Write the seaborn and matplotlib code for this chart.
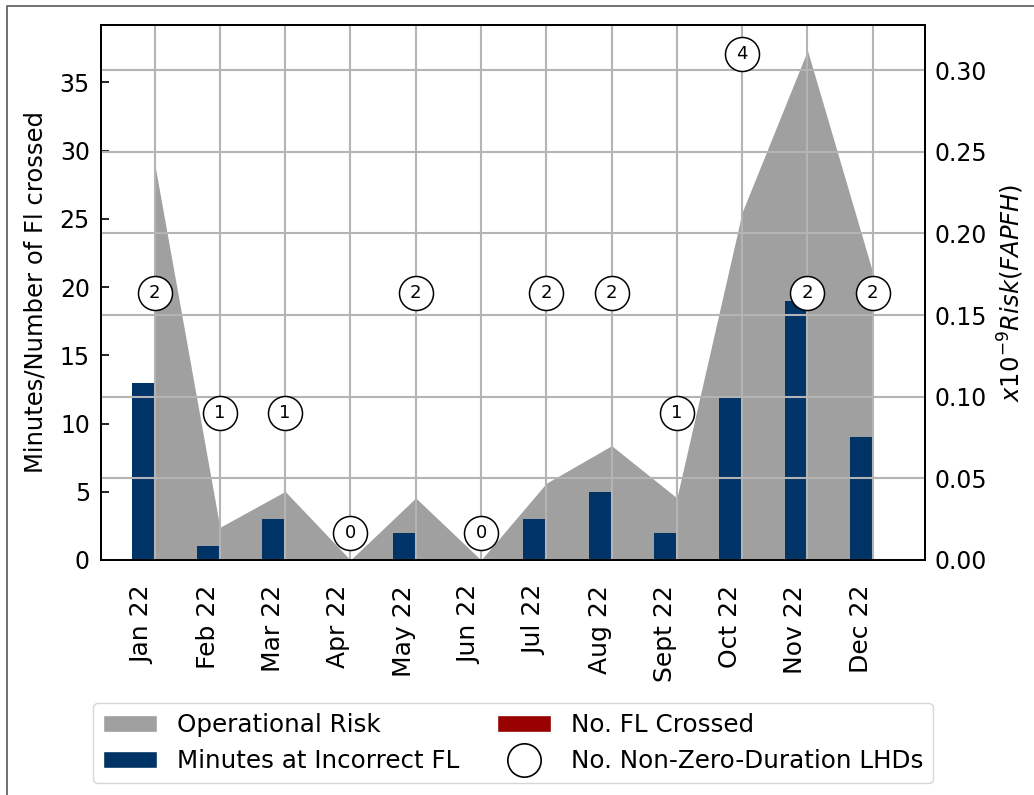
import numpy as np
import pandas as pd
import matplotlib
matplotlib.use('Agg')
import matplotlib.pyplot as plt
import seaborn as sns
from matplotlib.patches import Patch
from matplotlib.lines import Line2D
from matplotlib.ticker import MultipleLocator, FormatStrFormatter

# ---------------- data ----------------
months = ["Jan 22", "Feb 22", "Mar 22", "Apr 22", "May 22", "Jun 22",
          "Jul 22", "Aug 22", "Sept 22", "Oct 22", "Nov 22", "Dec 22"]
minutes_incorrect_fl = [13, 1, 3, 0, 2, 0, 3, 5, 2, 12, 19, 9]
fl_crossed = [0, 0, 0, 0, 0, 0, 0, 0, 0, 0, 0, 0]
operational_risk = [0.243, 0.020, 0.042, 0.0, 0.038, 0.0, 0.047, 0.070,
                    0.038, 0.213, 0.312, 0.176]
lhd_counts = [2, 1, 1, 0, 2, 0, 2, 2, 1, 4, 2, 2]

# ---------------- style ----------------
sns.set_style('white')
plt.rcParams['font.family'] = ['DejaVu Sans']
plt.rcParams['mathtext.fontset'] = 'dejavusans'
for k in ('text.color', 'axes.labelcolor', 'xtick.color', 'ytick.color'):
    plt.rcParams[k] = 'black'

GREY = '#a0a0a0'
NAVY = '#003366'
RED = '#990000'
GRID = '#b4b4b4'

fig = plt.figure(figsize=(10.34, 7.95), dpi=100)
ax = fig.add_axes([0.0977, 0.2956, 0.7969, 0.6730])
ax2 = ax.twinx()   # operational risk area (bottom layer)
ax3 = ax.twinx()   # grid layer
ax4 = ax.twinx()   # LHD circles (top)

ax2.set_zorder(0)
ax.set_zorder(1)
ax3.set_zorder(2)
ax4.set_zorder(3)
ax2.patch.set_visible(True)
ax2.patch.set_facecolor('white')
for a in (ax, ax3, ax4):
    a.patch.set_visible(False)

x = np.arange(len(months))

# area
ax2.fill_between(x, 0, operational_risk, color=GREY, lw=0)

# bars
df = pd.DataFrame({
    'month': months * 2,
    'value': minutes_incorrect_fl + fl_crossed,
    'series': ['Minutes at Incorrect FL'] * len(months) + ['No. FL Crossed'] * len(months),
})
sns.barplot(data=df, x='month', y='value', hue='series', ax=ax,
            palette=[NAVY, RED], saturation=1, width=0.7, errorbar=None,
            legend=False, linewidth=0, edgecolor='none')

# circles
sns.scatterplot(x=x, y=lhd_counts, ax=ax4, s=600, facecolor='white',
                edgecolor='black', linewidth=1.1, zorder=3, legend=False)
for xi, n in zip(x, lhd_counts):
    ax4.text(xi, n, str(n), ha='center', va='center', fontsize=13, zorder=4)

# limits
ax.set_xlim(-0.82, 11.80)
ax.set_ylim(0, 39.2)
ax2.set_ylim(0, 0.3276)
ax3.set_ylim(0, 0.3276)
ax4.set_ylim(-0.228, 4.24)

# left axis
ax.set_xlabel('')
ax.set_ylabel('Minutes/Number of Fl crossed', fontsize=17.5)
ax.yaxis.set_label_coords(-0.065, 0.5)
ax.yaxis.set_major_locator(MultipleLocator(5))
ax.set_xticks(x)
ax.set_xticklabels(months, rotation=90, ha='right')
ax.tick_params(axis='y', direction='in', length=6, width=1.2, labelsize=17,
               pad=8, left=True, right=False)
ax.tick_params(axis='x', direction='in', length=6, width=1.2, labelsize=18,
               pad=18, top=True, bottom=True)

# right axis
ax2.yaxis.set_major_locator(MultipleLocator(0.05))
ax2.yaxis.set_major_formatter(FormatStrFormatter('%.2f'))
ax2.tick_params(axis='y', direction='in', length=6, width=1.2, labelsize=17,
                pad=7, right=True)
ax2.set_ylabel(r'$x10^{-9}Risk(FAPFH)$', fontsize=17.5)
ax2.yaxis.set_label_coords(1.086, 0.5)

# grid layer
ax3.yaxis.set_major_locator(MultipleLocator(0.05))
ax3.tick_params(axis='y', length=0, labelright=False, labelleft=False)
ax3.xaxis.set_visible(True)
ax3.tick_params(axis='x', length=0, labelbottom=False, labeltop=False)
ax3.grid(True, axis='both', color=GRID, lw=1.5)

ax4.yaxis.set_visible(False)

for a in (ax, ax2, ax3, ax4):
    for s in a.spines.values():
        s.set_color('black')
        s.set_linewidth(1.2)

# legend
handles = [
    Patch(facecolor=GREY, label='Operational Risk'),
    Patch(facecolor=NAVY, label='Minutes at Incorrect FL'),
    Patch(facecolor=RED, label='No. FL Crossed'),
    Line2D([], [], marker='o', ls='', markersize=24, mfc='white', mec='black',
           mew=1.2, label='No. Non-Zero-Duration LHDs'),
]
fig.legend(handles=handles, loc='upper left', ncol=2, mode='expand',
           bbox_to_anchor=(93 / 1034, 0, 840 / 1034, 1 - 703 / 795),
           borderaxespad=0, fontsize=17.7, handlelength=2.2, frameon=True)

# outer border
fig.add_artist(Line2D([7 / 1034, 7 / 1034, 1], [0, 1 - 6 / 795, 1 - 6 / 795],
                      transform=fig.transFigure, color='0.35', lw=1.2))

fig.savefig('out.png', dpi=100)
